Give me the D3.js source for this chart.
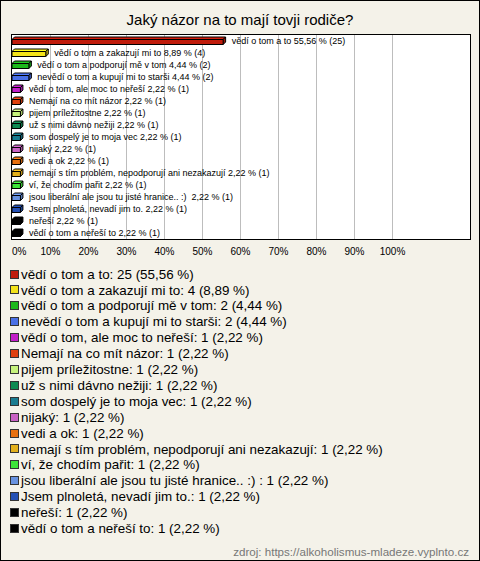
<!DOCTYPE html>
<html><head><meta charset="utf-8">
<script src="https://cdn.jsdelivr.net/npm/d3@7/dist/d3.min.js"></script>
<style>
html,body{margin:0;padding:0;background:#fff;}
svg{display:block;font-family:"Liberation Sans",Arial,sans-serif;}
text{white-space:pre;}
</style>
</head><body>
<svg id="c" width="480" height="561"></svg>
<script>
const title = "Jaký názor na to mají tovji rodiče?";
const categories = [
  "vědí o tom a to",
  "vědí o tom a zakazují mi to",
  "vědí o tom a podporují mě v tom",
  "nevědí o tom a kupují mi to starši",
  "vědí o tom, ale moc to neřeší",
  "Nemají na co mít názor",
  "pijem príležitostne",
  "už s nimi dávno nežiji",
  "som dospelý je to moja vec",
  "nijaký",
  "vedi a ok",
  "nemají s tím problém, nepodporují ani nezakazují",
  "ví, že chodím pařit",
  "jsou liberální ale jsou tu jisté hranice.. :) ",
  "Jsem plnoletá, nevadí jim to.",
  "neřeší",
  "vědí o tom a neřeší to"
];
const counts = [25, 4, 2, 2, 1, 1, 1, 1, 1, 1, 1, 1, 1, 1, 1, 1, 1];
const percents = [55.56, 8.89, 4.44, 4.44, 2.22, 2.22, 2.22, 2.22, 2.22, 2.22, 2.22, 2.22, 2.22, 2.22, 2.22, 2.22, 2.22];
const colors = ["#c01c0c", "#f2e21a", "#1cb81c", "#4a70e6", "#c21ec8", "#e0400e", "#c6f27c", "#0e8a52", "#1a7c90", "#c862c4", "#e8700e", "#e2b01c", "#3ee43a", "#6892e0", "#2450b4", "#000000", "#000000"];
const tickValues = [0, 10, 20, 30, 40, 50, 60, 70, 80, 90, 100];
const source = "zdroj: https://alkoholismus-mladeze.vyplnto.cz";

const fmt = v => d3.format(".2f")(v).replace(".", ",");
const svg = d3.select("#c");

svg.append("rect").attr("x", 0.5).attr("y", 0.5).attr("width", 479).attr("height", 560)
  .attr("fill", "#f4f2e9").attr("stroke", "#000");

svg.append("text").attr("x", 240).attr("y", 25).attr("text-anchor", "middle")
  .attr("font-size", 15).attr("fill", "#000").text(title);

const x = d3.scaleLinear().domain([0, 100]).range([12, 392]);
const y = d3.scaleBand().domain(d3.range(categories.length)).range([35, 239]);

// plot area
svg.append("rect").attr("x", 11.5).attr("y", 34.5).attr("width", 459).attr("height", 205)
  .attr("fill", "#fff");
svg.append("g").selectAll("line").data(tickValues.slice(1)).join("line")
  .attr("x1", d => Math.round(x(d)) + 0.5).attr("x2", d => Math.round(x(d)) + 0.5)
  .attr("y1", 35).attr("y2", 239).attr("stroke", "#bdbdbd");

const axis = d3.axisBottom(x).tickValues(tickValues).tickFormat(d => d + "%").tickSize(0).tickPadding(0);
const ag = svg.append("g").attr("transform", "translate(0,248)").call(axis);
ag.select(".domain").remove();
ag.selectAll("text").attr("font-size", 10).attr("font-family", "Liberation Sans, Arial, sans-serif").attr("fill", "#000")
  .filter(d => d === 0).attr("text-anchor", "start").attr("dx", -0.5);

// 3D bars
const d3depth = 2.5;
const bars = svg.append("g");
categories.forEach((c, i) => {
  const cy = y(i) + y.bandwidth() / 2 + 1;
  const x0 = x(0), x1 = x(percents[i]);
  const top = cy - 2.5, bot = cy + 2.5;
  const g = bars.append("g").attr("stroke", "#000").attr("stroke-width", 1).attr("stroke-linejoin", "round");
  const base = d3.color(colors[i]);
  g.append("path").attr("fill", base.brighter(0.3))
    .attr("d", `M${x0},${top}L${x0 + d3depth},${top - d3depth}L${x1 + d3depth},${top - d3depth}L${x1},${top}Z`);
  g.append("path").attr("fill", base.darker(0.6))
    .attr("d", `M${x1},${top}L${x1 + d3depth},${top - d3depth}L${x1 + d3depth},${bot - d3depth}L${x1},${bot}Z`);
  g.append("rect").attr("x", x0).attr("y", top).attr("width", x1 - x0).attr("height", bot - top).attr("fill", base);
  svg.append("text").attr("x", x1 + d3depth + 6).attr("y", cy - 1).attr("dy", "0.35em")
    .attr("font-size", 9).attr("fill", "#000")
    .text(c + " " + fmt(percents[i]) + " % (" + counts[i] + ")");
});

svg.append("rect").attr("x", 11.5).attr("y", 34.5).attr("width", 459).attr("height", 205)
  .attr("fill", "none").attr("stroke", "#000");

// legend
const lg = svg.append("g");
categories.forEach((c, i) => {
  const ly = 274 + i * 15.9;
  lg.append("rect").attr("x", 10.5).attr("y", Math.round(ly - 4.5) + 0.5).attr("width", 8).attr("height", 8)
    .attr("fill", colors[i]).attr("stroke", "#333");
  lg.append("text").attr("x", 21).attr("y", ly).attr("dy", "0.35em").attr("font-size", 13.4).attr("fill", "#000")
    .text(c + ": " + counts[i] + " (" + fmt(percents[i]) + " %)");
});

svg.append("text").attr("x", 469).attr("y", 552).attr("dy", "0.35em").attr("text-anchor", "end")
  .attr("font-size", 11.6).attr("fill", "#777").text(source);
</script>
</body></html>
